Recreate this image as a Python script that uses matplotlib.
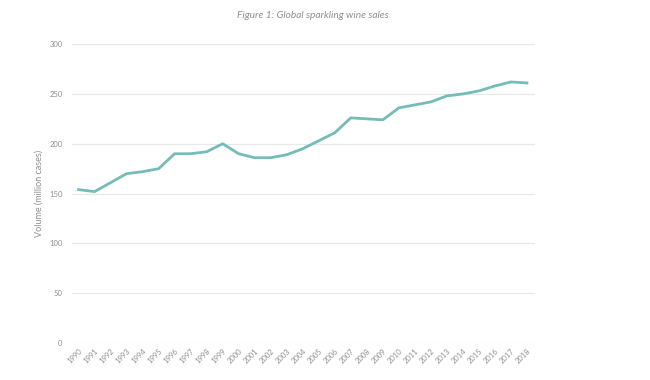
import matplotlib.pyplot as plt
import numpy as np

# data
years = list(range(1990, 2019))
volume = [154, 152, 161, 170, 172, 175, 190, 190, 192, 200,
          190, 186, 186, 189, 195, 203, 211, 226, 225, 224,
          236, 239, 242, 248, 250, 253, 258, 262, 261]
yticks = [0, 50, 100, 150, 200, 250, 300]

plt.rcParams['font.family'] = ['Lato', 'DejaVu Sans']

fig = plt.figure(figsize=(6.5, 3.8), dpi=100)
ax = fig.add_axes([0.111, 0.097, 0.712, 0.787])

ax.plot(years, volume, color='#74bcb8', linewidth=2.0, solid_joinstyle='round')

ax.set_ylim(0, 300)
ax.set_xlim(1989.6, 2018.5)
ax.set_yticks(yticks)
ax.set_xticks(years)
ax.set_xticklabels([str(y) for y in years], rotation=45, ha='right',
                   rotation_mode='anchor', fontsize=5.5, color='#8f8f8f')
ax.tick_params(axis='y', labelsize=5.5, labelcolor='#8f8f8f', length=0, pad=7)
ax.tick_params(axis='x', length=0, pad=3)

ax.grid(axis='y', color='#e8e8e8', linewidth=0.9)
ax.set_axisbelow(True)
for s in ax.spines.values():
    s.set_visible(False)

ax.set_ylabel('Volume (million cases)', fontsize=6.5, color='#8f8f8f', labelpad=4)
fig.text(0.482, 0.96, 'Figure 1: Global sparkling wine sales', fontsize=7.3,
         style='italic', color='#8f8f8f', ha='center', va='center')

fig.savefig('out.png', dpi=100, facecolor='white')
